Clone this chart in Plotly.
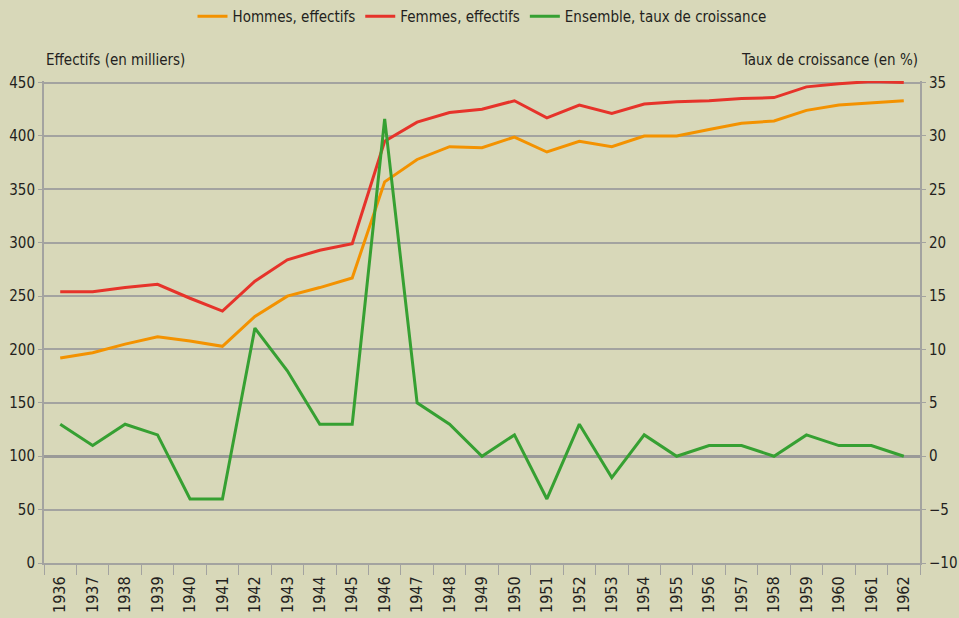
import plotly.graph_objects as go

years = [str(y) for y in range(1936, 1963)]

hommes = [192, 197, 205, 212, 208, 203, 231, 250, 258, 267, 357, 378, 390, 389, 399,
          385, 395, 390, 400, 400, 406, 412, 414, 424, 429, 431, 433]
femmes = [254, 254, 258, 261, 248, 236, 264, 284, 293, 299, 395, 413, 422, 425, 433,
          417, 429, 421, 430, 432, 433, 435, 436, 446, 449, 451, 450]
croissance = [3, 1, 3, 2, -4, -4, 12, 8, 3, 3, 31.6, 5, 3, 0, 2,
              -4, 3, -2, 2, 0, 1, 1, 0, 2, 1, 1, 0]

BG = "#d8d8b9"
GRID = "#a3a3a0"
FONT = "DejaVu Sans Condensed, Liberation Sans Narrow, sans-serif"

fig = go.Figure()
fig.add_trace(go.Scatter(x=years, y=hommes, name="Hommes, effectifs", mode="lines",
                         line=dict(color="#f39200", width=3)))
fig.add_trace(go.Scatter(x=years, y=femmes, name="Femmes, effectifs", mode="lines",
                         line=dict(color="#e6332a", width=3)))
fig.add_trace(go.Scatter(x=years, y=croissance, name="Ensemble, taux de croissance", mode="lines",
                         line=dict(color="#36a032", width=3), yaxis="y2"))

fig.update_layout(
    width=959, height=618,
    paper_bgcolor=BG, plot_bgcolor=BG,
    margin=dict(l=44, r=39, t=81, b=55, autoexpand=False),
    font=dict(family=FONT, size=15, color="#231f20"),
    showlegend=True,
    legend=dict(orientation="h", x=0.5, xanchor="center", y=1.0, yanchor="top",
                yref="container", font=dict(size=15), bgcolor="rgba(0,0,0,0)"),
    xaxis=dict(type="category", tickangle=-90, tickson="boundaries", ticks="outside",
               ticklen=10, tickcolor=GRID, showline=True, linecolor=GRID, linewidth=2,
               showgrid=False, tickfont=dict(size=16), ticklabelstandoff=5,
               range=[-0.5, 26.5]),
    yaxis=dict(range=[0, 451.5], tickvals=list(range(0, 451, 50)), showgrid=True,
               gridcolor=GRID, gridwidth=2,
               showline=True, linecolor=GRID, linewidth=2, zeroline=False,
               ticks="outside", ticklen=4, tickcolor=GRID),
    yaxis2=dict(range=[-10, 35.15], tickvals=list(range(-10, 36, 5)), overlaying="y",
                side="right", showgrid=False,
                showline=True, linecolor=GRID, linewidth=2, zeroline=True,
                zerolinecolor="#9a9a98", zerolinewidth=3,
                ticks="outside", ticklen=4, tickcolor=GRID),
    annotations=[
        dict(text="Effectifs (en milliers)", xref="paper", yref="paper", x=0, y=1.02,
             xanchor="left", yanchor="bottom", showarrow=False, font=dict(size=15)),
        dict(text="Taux de croissance (en %)", xref="paper", yref="paper", x=1, y=1.02,
             xanchor="right", yanchor="bottom", showarrow=False, font=dict(size=15)),
    ],
)

fig.write_html("out.html", config={"displayModeBar": False},
               post_script="document.body.style.margin='0';")
